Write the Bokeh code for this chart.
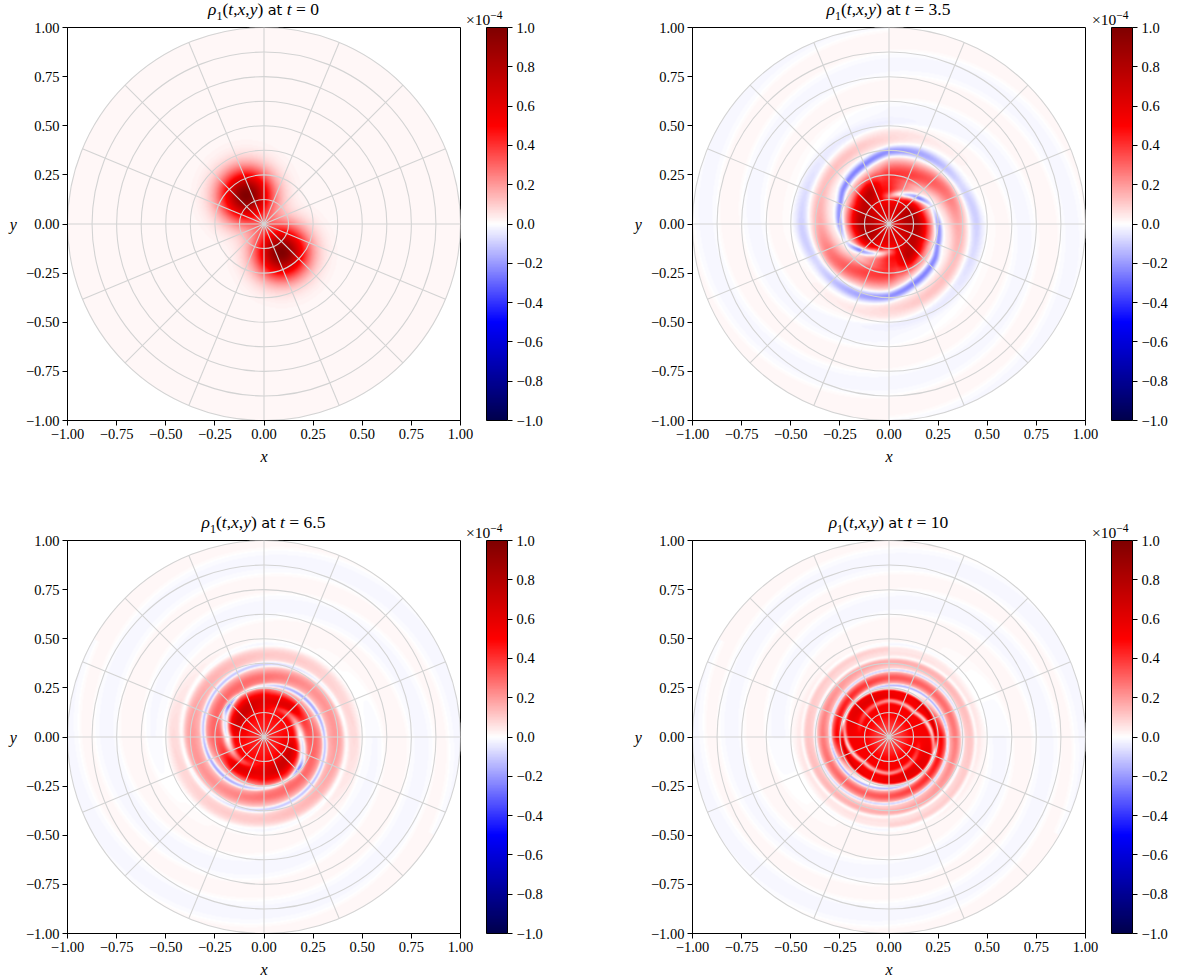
import numpy as np
from bokeh.embed import file_html
from bokeh.resources import INLINE
from bokeh.layouts import row, column
from bokeh.models import (ColorBar, Div, FixedTicker, LinearColorMapper, Range1d)
from bokeh.plotting import figure

# ---- text / ticks
title_values = ["0", "3.5", "6.5", "10"]
axis_ticks = [-1.0, -0.75, -0.5, -0.25, 0.0, 0.25, 0.5, 0.75, 1.0]
axis_tick_labels = ["−1.00", "−0.75", "−0.50", "−0.25", "0.00", "0.25", "0.50", "0.75", "1.00"]
bar_ticks = [-1.0, -0.8, -0.6, -0.4, -0.2, 0.0, 0.2, 0.4, 0.6, 0.8, 1.0]
bar_tick_labels = ["−1.0", "−0.8", "−0.6", "−0.4", "−0.2", "0.0", "0.2", "0.4", "0.6", "0.8", "1.0"]
grid_radii = [0.125, 0.25, 0.375, 0.5, 0.625, 0.75, 0.875, 1.0]
grid_angles = [0, 22.5, 45, 67.5, 90, 112.5, 135, 157.5, 180, 202.5, 225, 247.5, 270, 292.5, 315, 337.5]
seismic_anchors = [(0, 0, 77), (0, 0, 255), (255, 255, 255), (255, 0, 0), (128, 0, 0)]

# ---- estimated field (values in units of 1e-4)
# axisymmetric part: radius -> value
r_0 = [0.0, 1.0]
v_0 = [0.014, 0.014]
r_35 = [0.0, 0.08, 0.14, 0.2, 0.23, 0.45, 0.47, 1.0]
v_35 = [0.6, 0.62, 0.45, 0.12, 0.0, 0.0, 0.012, 0.012]
r_65 = [0.0, 0.05, 0.1, 0.15, 0.2, 0.25, 0.43, 0.46, 0.5, 1.0]
v_65 = [0.42, 0.44, 0.47, 0.45, 0.15, 0.0, 0.03, 0.03, 0.012, 0.012]
r_10 = [0.0, 0.05, 0.1, 0.13, 0.2, 0.235, 0.247, 0.34, 0.36, 0.39, 0.42, 0.45, 0.48, 0.5, 1.0]
v_10 = [0.35, 0.37, 0.48, 0.52, 0.54, 0.52, 0.0, 0.06, 0.05, 0.07, 0.05, 0.05, 0.02, 0.012, 0.012]

# blobs at t = 0: centre x, centre y, peak, size (each with its point-mirrored copy)
blob_x = [-0.09]
blob_y = [0.145]
blob_peak = [0.98]
blob_size = [0.125]

# spiral ribbons: angle (deg, unwrapped), radius, value, half width
lobe_35 = ([100, 120, 150, 180, 210, 240, 260], [0.22, 0.2, 0.17, 0.15, 0.13, 0.12, 0.11], [0.0, 0.3, 0.38, 0.38, 0.3, 0.05, 0.0], [0.06, 0.06, 0.07, 0.07, 0.06, 0.06, 0.06])
arm_35 = ([-150, -120, -90, -60, -30, 0, 30, 60, 90, 120, 150], [0.5, 0.47, 0.44, 0.41, 0.38, 0.35, 0.33, 0.28, 0.24, 0.2, 0.18],
          [0.0, 0.03, 0.08, 0.12, 0.13, 0.17, 0.28, 0.36, 0.42, 0.3, 0.0], [0.05, 0.05, 0.05, 0.045, 0.045, 0.05, 0.062, 0.065, 0.08, 0.06, 0.06])
gap_35 = ([20, 40, 60, 90, 110], [0.24, 0.2, 0.17, 0.14, 0.14], [0.0, -0.42, -0.42, -0.28, 0.0], [0.016, 0.018, 0.02, 0.02, 0.02])
blue_35 = ([-320, -270, -225, -177, -152, -137, -113, -90, -70, -36, -25, 0, 25], [0.53, 0.5, 0.47, 0.44, 0.405, 0.4, 0.39, 0.367, 0.33, 0.29, 0.27, 0.25, 0.235],
           [0.0, -0.03, -0.05, -0.1, -0.13, -0.15, -0.2, -0.26, -0.26, -0.26, -0.26, -0.26, -0.02], [0.04, 0.04, 0.04, 0.04, 0.035, 0.032, 0.03, 0.026, 0.023, 0.02, 0.018, 0.018, 0.014])
rim_35 = ([90, 180, 270, 360, 450, 520], [1.05, 0.93, 0.81, 0.685, 0.56, 0.47], [-0.024, -0.024, -0.024, -0.024, -0.024, 0.0], [0.062, 0.062, 0.062, 0.062, 0.062, 0.062])

lobe_65 = ([0, 20, 45, 90, 120, 150, 180, 200], [0.19, 0.19, 0.2, 0.205, 0.19, 0.17, 0.14, 0.13], [0.0, 0.1, 0.32, 0.42, 0.42, 0.28, 0.05, 0.0], [0.05, 0.05, 0.05, 0.05, 0.05, 0.05, 0.05, 0.05])
arm_65 = ([-420, -360, -270, -180, -135, -90, -45, 0, 45, 80], [0.5, 0.47, 0.415, 0.365, 0.34, 0.305, 0.28, 0.25, 0.22, 0.2],
          [0.0, 0.04, 0.08, 0.18, 0.2, 0.26, 0.28, 0.3, 0.2, 0.0], [0.035, 0.035, 0.04, 0.05, 0.05, 0.045, 0.05, 0.055, 0.04, 0.04])
gap_65 = ([-60, -40, 0, 45, 90], [0.25, 0.235, 0.185, 0.17, 0.14], [0.0, -0.36, -0.36, -0.28, 0.0], [0.016, 0.018, 0.02, 0.02, 0.02])
blue_65 = ([-520, -450, -360, -315, -270, -225, -180, -135, -90, -45, -20], [0.5, 0.47, 0.417, 0.395, 0.37, 0.34, 0.307, 0.285, 0.26, 0.24, 0.235],
           [0.0, -0.05, -0.08, -0.12, -0.17, -0.24, -0.27, -0.27, -0.27, -0.2, 0.0], [0.018, 0.018, 0.014, 0.013, 0.013, 0.012, 0.012, 0.012, 0.011, 0.01, 0.01])
rim_65 = ([-30, 0, 90, 180, 270, 360, 420], [1.04, 1.0, 0.89, 0.8, 0.66, 0.54, 0.47], [-0.024, -0.024, -0.024, -0.024, -0.024, -0.024, 0.0], [0.062, 0.062, 0.062, 0.062, 0.062, 0.062, 0.062])

lobe_10 = ([60, 90, 120, 150, 170], [0.19, 0.21, 0.21, 0.21, 0.2], [0.0, 0.05, 0.08, 0.05, 0.0], [0.02, 0.02, 0.02, 0.02, 0.02])
arm_10 = ([-450, -360, -270, -180, -90, 0, 30, 60], [0.45, 0.415, 0.38, 0.335, 0.3, 0.262, 0.25, 0.24], [0.04, 0.06, 0.1, 0.2, 0.3, 0.5, 0.25, 0.0], [0.02, 0.025, 0.025, 0.03, 0.03, 0.03, 0.02, 0.02])
gap_10 = ([-45, -20, 10, 45, 90, 135, 180], [0.25, 0.24, 0.215, 0.18, 0.185, 0.17, 0.15], [0.0, -0.42, -0.48, -0.42, -0.34, -0.2, 0.0], [0.011, 0.012, 0.013, 0.012, 0.012, 0.014, 0.014])
blue_10 = ([-700, -630, -540, -450, -360, -270, -180, -90, -60, -30], [0.49, 0.47, 0.44, 0.405, 0.375, 0.34, 0.298, 0.262, 0.255, 0.25],
           [0.0, -0.05, -0.06, -0.08, -0.14, -0.22, -0.26, -0.22, -0.18, 0.0], [0.012, 0.012, 0.01, 0.01, 0.008, 0.007, 0.007, 0.007, 0.007, 0.007])
rim_10 = ([-30, 0, 90, 180, 270, 360, 420], [1.04, 1.0, 0.9, 0.8, 0.68, 0.56, 0.47], [-0.024, -0.024, -0.024, -0.024, -0.024, -0.024, 0.0], [0.062, 0.062, 0.062, 0.062, 0.062, 0.062, 0.062])

# per panel: axisymmetric part, soft ribbons, flat-topped pale bands
panels = [
    (r_0, v_0, [], []),
    (r_35, v_35, [lobe_35, arm_35, gap_35, blue_35], [rim_35]),
    (r_65, v_65, [lobe_65, arm_65, gap_65, blue_65], [rim_65]),
    (r_10, v_10, [lobe_10, arm_10, gap_10, blue_10], [rim_10]),
]


def seismic(n):
    pos = np.linspace(0, 1, len(seismic_anchors))
    c = np.array(seismic_anchors, float)
    s = np.linspace(0, 1, n)
    rgb = np.stack([np.interp(s, pos, c[:, i]) for i in range(3)], axis=1).round().astype(int)
    return ["#%02x%02x%02x" % tuple(int(q) for q in v) for v in rgb]


palette = seismic(255)
N = 393
g = (np.arange(N) + 0.5) / N * 2 - 1
X, Y = np.meshgrid(g, g)
R = np.hypot(X, Y)
TH = np.degrees(np.arctan2(Y, X))


def add_ribbons(v, ribbons, power):
    for psi, rr, aa, ww in ribbons:
        order = np.argsort(psi)
        psi_s = np.array(psi, float)[order]
        rr_s, aa_s, ww_s = (np.array(q, float)[order] for q in (rr, aa, ww))
        for k in range(-6, 7):
            u = TH + 180 * k
            m = (u >= psi_s[0]) & (u <= psi_s[-1])
            c = np.interp(u, psi_s, rr_s)
            a = np.interp(u, psi_s, aa_s)
            w = np.interp(u, psi_s, ww_s)
            v = v + np.where(m, a * np.exp(-(np.abs((R - c) / w) ** power)), 0.0)
    return v


def field(i):
    rad, base, ribbons, bands = panels[i]
    v = np.interp(R, rad, base)
    if i == 0:
        for bx, by, bp, bs in zip(blob_x, blob_y, blob_peak, blob_size):
            v = v + bp * np.exp(-((X - bx) ** 2 + (Y - by) ** 2) / bs ** 2)
            v = v + bp * np.exp(-((X + bx) ** 2 + (Y + by) ** 2) / bs ** 2)
    v = add_ribbons(v, ribbons, 2)
    v = add_ribbons(v, bands, 8)
    return np.where(R <= 1.0, v, np.nan)


SERIF = "Liberation Serif"
FRAME = 393


def panel(i, left, right, top, bottom):
    p = figure(width=left + FRAME + right, height=top + FRAME + bottom,
               frame_width=FRAME, frame_height=FRAME,
               min_border_left=left, min_border_right=right, min_border_top=top, min_border_bottom=bottom,
               x_range=Range1d(-1, 1), y_range=Range1d(-1, 1),
               output_backend="svg", toolbar_location=None)
    mapper = LinearColorMapper(palette=palette, low=-1, high=1, nan_color="rgba(0,0,0,0)")
    p.image(image=[field(i)], x=-1, y=-1, dw=2, dh=2, color_mapper=mapper)
    for r in grid_radii:
        p.circle(x=[0], y=[0], radius=r, fill_color=None, line_color="#d3d3d3", line_width=1.1)
    for a in grid_angles:
        t = np.radians(a)
        p.line([0, np.cos(t)], [0, np.sin(t)], line_color="#d3d3d3", line_width=1.1)
    p.grid.visible = False
    p.outline_line_color = "black"
    p.outline_line_width = 1
    for ax, name in ((p.xaxis[0], "x"), (p.yaxis[0], "y")):
        ax.ticker = FixedTicker(ticks=axis_ticks)
        ax.major_label_overrides = dict(zip(axis_ticks, axis_tick_labels))
        ax.major_label_text_font = SERIF
        ax.major_label_text_font_size = "14.5px"
        ax.major_label_text_color = "black"
        ax.major_tick_in = 0
        ax.major_tick_out = 5
        ax.major_label_standoff = 3
        ax.minor_tick_line_color = None
        ax.axis_line_color = "black"
        ax.major_tick_line_color = "black"
        ax.axis_label = name
        ax.axis_label_text_font = SERIF
        ax.axis_label_text_font_style = "italic"
        ax.axis_label_text_font_size = "16px"
        ax.axis_label_text_color = "black"
    p.xaxis[0].axis_label_standoff = 6
    p.yaxis[0].axis_label_orientation = "horizontal"
    p.yaxis[0].axis_label_standoff = 6
    cb = ColorBar(color_mapper=mapper, ticker=FixedTicker(ticks=bar_ticks),
                  major_label_overrides=dict(zip(bar_ticks, bar_tick_labels)),
                  major_tick_in=0, major_tick_out=5, major_tick_line_color="black",
                  bar_line_color="black", width=21, height=FRAME, location=(FRAME + 26, 0), margin=0, padding=0,
                  label_standoff=4, major_label_text_color="black",
                  major_label_text_font=SERIF, major_label_text_font_size="14.5px", minor_tick_line_color=None)
    p.add_layout(cb)
    return p


def overlay_text():
    # titles and the colour bar's scale factor sit above the frames; the holder is at y = 977
    html = ""
    centers = [263.5, 888.5, 263.5, 888.5]
    factors = [466, 1092, 466, 1092]
    rows = [0, 0, 513, 513]
    for val, cx, fx, dy in zip(title_values, centers, factors, rows):
        html += (f'<span style="position:absolute;white-space:nowrap;left:{cx}px;top:{dy - 3 - 977}px;'
                 f'transform:translateX(-50%);font:17.5px/18px \'{SERIF}\';color:#000">'
                 f'<i>ρ</i><sub style="font-size:12px;line-height:0">1</sub>(<i>t</i>,<i>x</i>,<i>y</i>) '
                 f'<span style="font:14.5px \'DejaVu Sans\'">at</span> <i>t</i>&nbsp;=&nbsp;{val}</span>')
        html += (f'<span style="position:absolute;white-space:nowrap;left:{fx}px;top:{9 + dy - 977}px;'
                 f'font:15.5px/16px \'{SERIF}\';color:#000">×10'
                 f'<sup style="font-size:11.5px;line-height:0">−4</sup></span>')
    return Div(text=html, width=0, height=0, margin=0)


top_row = row(panel(0, 67, 90, 27, 93), panel(1, 142, 85, 27, 93), spacing=0)
bot_row = row(panel(2, 67, 90, 27, 45), panel(3, 142, 85, 27, 45), spacing=0)
page = column(top_row, bot_row, overlay_text(), spacing=0)
open("out.html", "w").write(file_html(page, INLINE))
